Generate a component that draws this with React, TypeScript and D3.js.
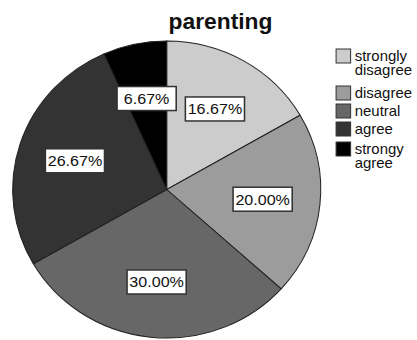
import React from "react";
import * as d3 from "d3";

// Response categories and their share of respondents (%)
const categories = ["strongly disagree", "disagree", "neutral", "agree", "strongy agree"];
const legendLines = [["strongly", "disagree"], ["disagree"], ["neutral"], ["agree"], ["strongy", "agree"]];
const percents = [16.67, 20.0, 30.0, 26.67, 6.67];
const fills = ["#cccccc", "#9c9c9c", "#676767", "#333333", "#000000"];
const title = "parenting";

const W = 417;
const H = 340;
const VBW = 402; // drawing width before the horizontal stretch
const cx = 160.7;
const cy = 189.5;
const R = 148.5;
const labelR = 93;

export default function App() {
  const pie = d3
    .pie<number>()
    .sort(null)
    .value((d) => d)(percents);
  const arc = d3.arc<d3.PieArcDatum<number>>().innerRadius(0).outerRadius(R);
  const labelArc = d3
    .arc<d3.PieArcDatum<number>>()
    .innerRadius(labelR)
    .outerRadius(labelR);

  const fmt = d3.format(".2f");
  const font = "'Liberation Sans', Arial, sans-serif";

  // legend rows: top y of each swatch
  const rowTops = [49, 86, 104, 122, 142];

  return (
    <div style={{ position: "absolute", left: 0, top: 0, width: W, height: H, background: "#fff" }}>
      <svg
        width={W}
        height={H}
        viewBox={`0 0 ${VBW} ${H}`}
        preserveAspectRatio="none"
        style={{ display: "block" }}
      >
        <rect x={0} y={0} width={VBW} height={H} fill="#fff" />
        <text
          x={212.6}
          y={29}
          textAnchor="middle"
          fontFamily={font}
          fontWeight="bold"
          fontSize={22}
          fill="#111"
        >
          {title}
        </text>
        <g transform={`translate(${cx},${cy})`}>
          {pie.map((d, i) => (
            <path key={i} d={arc(d) || ""} fill={fills[i]} stroke="#222" strokeWidth={1} />
          ))}
          {pie.map((d, i) => {
            const [lx, ly] = labelArc.centroid(d);
            const bw = 57;
            const bh = 24;
            return (
              <g key={"l" + i} transform={`translate(${lx},${ly})`}>
                <rect
                  x={-bw / 2}
                  y={-bh / 2}
                  width={bw}
                  height={bh}
                  fill="#fff"
                  stroke="#333"
                  strokeWidth={1.5}
                />
                <text
                  x={0}
                  y={5.5}
                  textAnchor="middle"
                  fontFamily={font}
                  fontSize={15.5}
                  fill="#111"
                >
                  {fmt(d.data) + "%"}
                </text>
              </g>
            );
          })}
        </g>
        <g>
          {categories.map((c, i) => (
            <g key={c} transform={`translate(324,${rowTops[i]})`}>
              <rect x={0} y={0} width={14} height={14} fill={fills[i]} stroke="#333" strokeWidth={1} />
              <text x={18} y={12} fontFamily={font} fontSize={14.4} fill="#111">
                {legendLines[i].map((ln, j) => (
                  <tspan key={j} x={18} dy={j === 0 ? 0 : 14.5}>
                    {ln}
                  </tspan>
                ))}
              </text>
            </g>
          ))}
        </g>
      </svg>
    </div>
  );
}
